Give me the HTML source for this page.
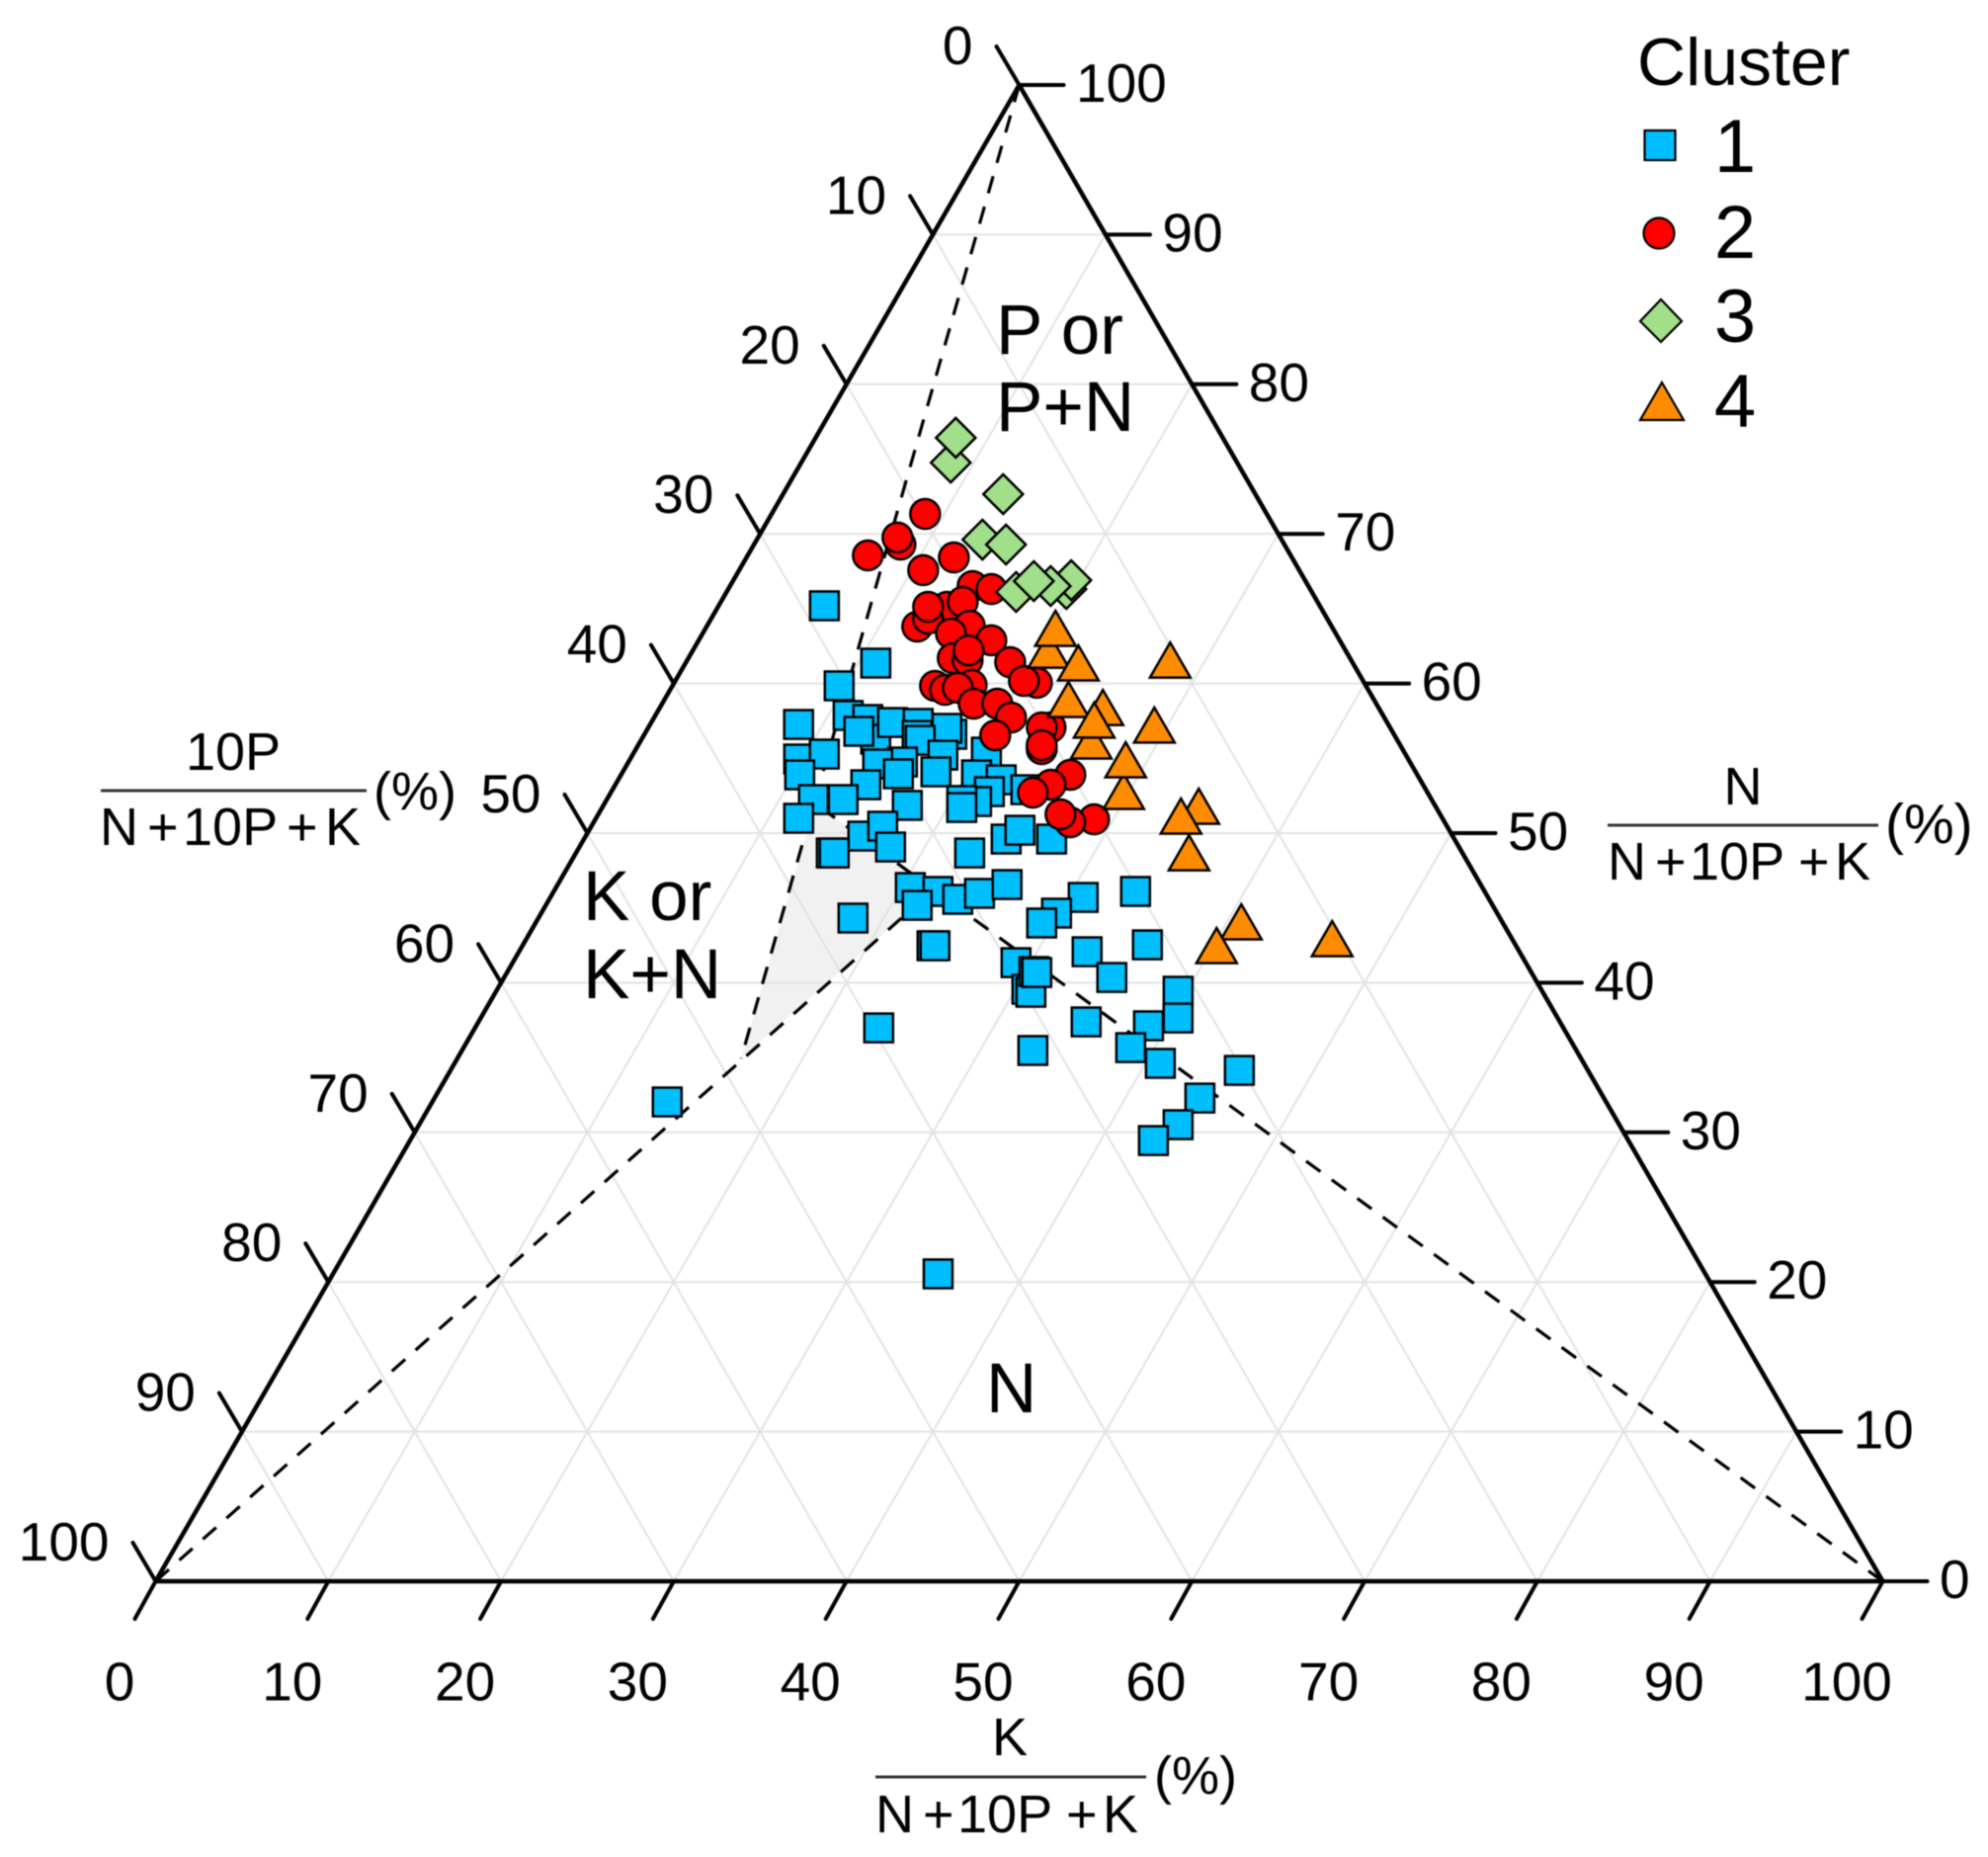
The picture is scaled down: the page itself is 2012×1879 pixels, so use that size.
<!DOCTYPE html>
<html lang="en">
<head>
<meta charset="utf-8">
<title>Ternary plot of N, 10P and K by cluster</title>
<style>
html,body{margin:0;padding:0;background:#fff;}
body{width:2012px;height:1879px;overflow:hidden;}
svg{display:block;font-family:"Liberation Sans",Arial,sans-serif;fill:#000;filter:blur(0.5px);}
</style>
</head>
<body>
<svg id="chart" xmlns="http://www.w3.org/2000/svg" width="2012" height="1879" viewBox="0 0 2012 1879">
  <rect x="0" y="0" width="2012" height="1879" fill="#ffffff"/>
  <g id="region"></g>
  <g id="grid"></g>
  <g id="dashes"></g>
  <g id="axes"></g>
  <g id="marks" transform="translate(-1.2,1)"></g>
  <g id="labels"></g>

  <g font-size="71">
    <text x="1008" y="358">P or</text>
    <text x="1008" y="436">P+N</text>
    <text x="590" y="931">K or</text>
    <text x="590" y="1010">K+N</text>
    <text x="998" y="1429">N</text>
  </g>

  <g font-size="54">
    <text x="236" y="779" text-anchor="middle">10P</text>
    <line x1="102" y1="800" x2="371" y2="800" stroke="#333" stroke-width="3"/>
    <text y="855"><tspan x="101">N</tspan><tspan x="149">+</tspan><tspan x="185">10P</tspan><tspan x="290">+</tspan><tspan x="329">K</tspan></text>
    <text x="378" y="819" font-size="54">(%)</text>
  </g>
  <g font-size="54">
    <text x="1764" y="814" text-anchor="middle">N</text>
    <line x1="1627" y1="835" x2="1901" y2="835" stroke="#333" stroke-width="3"/>
    <text y="890"><tspan x="1627">N</tspan><tspan x="1675">+</tspan><tspan x="1710">10P</tspan><tspan x="1820">+</tspan><tspan x="1857">K</tspan></text>
    <text x="1908" y="853" font-size="57">(%)</text>
  </g>
  <g font-size="54">
    <text x="1022" y="1776" text-anchor="middle">K</text>
    <line x1="886" y1="1798" x2="1160" y2="1798" stroke="#333" stroke-width="3"/>
    <text y="1854"><tspan x="886">N</tspan><tspan x="934">+</tspan><tspan x="969">10P</tspan><tspan x="1079">+</tspan><tspan x="1116">K</tspan></text>
    <text x="1168" y="1815" font-size="54">(%)</text>
  </g>

  <g>
    <text x="1657" y="86" font-size="68">Cluster</text>
    <g>
      <rect x="1664.5" y="132" width="31" height="30" fill="#00BFFF" stroke="#000" stroke-width="2.2"/>
      <text x="1756" y="174" font-size="76" text-anchor="middle">1</text>
    </g>
    <g>
      <circle cx="1679" cy="236" r="15.5" fill="#FF0000" stroke="#000" stroke-width="2.2"/>
      <text x="1756" y="261" font-size="76" text-anchor="middle">2</text>
    </g>
    <g>
      <polygon points="1681,303 1702,325 1681,346 1660,325" fill="#A1DF8B" stroke="#000" stroke-width="2.2"/>
      <text x="1756" y="346" font-size="76" text-anchor="middle">3</text>
    </g>
    <g>
      <polygon points="1682,387 1704,425 1660,425" fill="#FF8C00" stroke="#000" stroke-width="2.2"/>
      <text x="1756" y="432" font-size="76" text-anchor="middle">4</text>
    </g>
  </g>
</svg>

<script>
// Tick values shared by the three axes
const tickValues = [0, 10, 20, 30, 40, 50, 60, 70, 80, 90, 100];
const gridValues = [10, 20, 30, 40, 50, 60, 70, 80, 90];

// Inner junctions of the dashed boundaries, as K and N percentages
const regionK = [16.43, 12.20, 21.93];
const regionN = [34.94, 51.98, 46.24];

// Cluster 1 (squares)
const cluster1K = [11.05,9.69,8.63,11.20,12.47,13.59,12.35,14.00,15.52,15.86,17.83,17.35,16.20,9.79,11.11,10.38,15.90,14.53,16.06,18.01,18.17,20.43,20.62,22.21,12.00,14.54,13.72,11.77,17.63,21.92,21.51,20.62,20.85,23.97,16.08,16.90,18.05,14.82,14.99,22.83,24.48,24.98,27.11,20.55,22.28,21.54,23.69,24.75,26.05,18.25,23.75,23.92,23.41,33.09,30.89,29.87,29.34,33.72,32.93,36.19,35.22,29.18,30.70,31.03,30.51,30.71,39.52,40.41,38.96,35.22,38.66,40.90,45.71,44.35,43.98,43.08,6.16,13.64,35.07];
const cluster1N = [61.43,59.91,57.33,57.93,57.66,56.34,56.87,57.46,57.40,56.60,56.67,57.07,56.27,55.02,55.35,53.96,54.82,54.69,54.03,55.28,54.16,55.48,53.96,53.63,52.31,53.30,52.31,51.06,51.92,52.84,52.18,52.25,51.78,52.97,49.87,50.53,49.14,48.74,48.74,48.74,49.67,50.26,49.67,46.43,46.17,45.24,45.64,46.04,46.63,44.39,42.54,42.54,37.05,35.54,45.77,44.72,44.06,46.17,42.14,42.60,40.42,41.41,39.63,39.43,40.82,40.75,39.50,37.71,37.19,37.45,35.73,34.68,34.21,32.36,30.58,29.52,65.26,32.10,20.61];

// Cluster 2 (circles)
const cluster2K = [8.92,8.52,8.11,6.99,10.69,12.04,14.08,15.27,13.29,12.23,12.59,12.20,14.04,15.23,14.41,16.98,15.34,16.27,16.00,18.80,21.04,20.22,17.33,15.24,15.95,16.62,18.07,19.44,20.70,20.38,23.32,22.81,23.53,23.40,26.05,25.24,24.47,28.91,27.63,26.80];
const cluster2N = [71.40,69.35,69.82,68.63,67.64,68.49,66.58,66.38,65.19,63.87,64.40,65.19,65.52,63.94,63.41,62.95,61.76,61.62,62.28,61.49,60.11,60.24,59.97,59.91,59.64,59.78,58.72,58.72,57.79,56.60,57.13,57.13,55.68,55.94,53.96,53.30,52.77,50.99,50.79,51.32];

// Cluster 3 (diamonds)
const cluster3K = [8.69,8.15,12.78,13.10,14.63,19.61,19.60,18.60,16.80,17.46];
const cluster3N = [74.83,76.49,72.72,69.68,69.35,66.38,66.97,66.58,66.18,66.91];

// Cluster 4 (triangles)
const cluster4K = [20.63,20.30,22.78,28.00,25.69,23.43,26.13,25.61,29.26,29.70,28.76,34.54,33.84,35.53,40.87,40.23,46.69];
const cluster4N = [62.28,63.74,61.43,61.62,58.45,58.98,56.21,57.60,57.27,52.84,54.95,51.85,51.19,48.74,44.12,42.54,43.00];

// Triangle frame and axis functions
const frameLeft = 157.5, frameWidth = 1748, frameBottom = 1600, frameHeight = 1514;
function xAt(k, n) { return frameLeft + (k + n / 2) / 100 * frameWidth; }
function yAt(n) { return frameBottom - n / 100 * frameHeight; }

const NS = 'http://www.w3.org/2000/svg';
function make(tag, attrs, parent) {
  const el = document.createElementNS(NS, tag);
  for (const key in attrs) el.setAttribute(key, attrs[key]);
  parent.appendChild(el);
  return el;
}
function segment(k1, n1, k2, n2, style, parent) {
  return make('line', Object.assign({ x1: xAt(k1, n1), y1: yAt(n1), x2: xAt(k2, n2), y2: yAt(n2) }, style), parent);
}

// Shaded region
const regionG = document.getElementById('region');
const shade = make('polygon', {
  points: regionK.map((k, i) => xAt(k, regionN[i]) + ',' + yAt(regionN[i])).join(' '),
  fill: '#f1f1f1'
}, regionG);



// Grid
const gridG = document.getElementById('grid');
const gridStyle = { stroke: '#e3e3e3', 'stroke-width': 2 };
gridValues.forEach(t => {
  const h = segment(0, t, 100 - t, t, gridStyle, gridG);
  
  
  const u = segment(t, 0, t, 100 - t, gridStyle, gridG);
  
  
  const v = segment(100 - t, 0, 0, 100 - t, gridStyle, gridG);
  
  
});

// Dashed boundaries
const dashG = document.getElementById('dashes');
const dashStyle = { stroke: '#000', 'stroke-width': 3.2, 'stroke-dasharray': '18 14', fill: 'none' };
const d1 = segment(0, 100, regionK[0], regionN[0], dashStyle, dashG);


const d2 = segment(0, 0, regionK[2], regionN[2], dashStyle, dashG);


const d3 = segment(100, 0, regionK[1], regionN[1], dashStyle, dashG);



// Axes and ticks
const axesG = document.getElementById('axes');
const axisStyle = { stroke: '#000', 'stroke-width': 4.5, 'stroke-linecap': 'round' };
const tickStyle = { stroke: '#000', 'stroke-width': 4, 'stroke-linecap': 'round' };
const axBottom = segment(0, 0, 100, 0, axisStyle, axesG);


const axLeft = segment(0, 0, 0, 100, axisStyle, axesG);


const axRight = segment(100, 0, 0, 100, axisStyle, axesG);



const labelG = document.getElementById('labels');
function tickLine(x, y, dx, dy) {
  return make('line', Object.assign({ x1: x, y1: y, x2: x + dx, y2: y + dy }, tickStyle), axesG);
}
function tickText(x, y, anchor, str) {
  const t = make('text', { x: x, y: y, 'text-anchor': anchor, 'font-size': 55 }, labelG);
  t.textContent = str;
  return t;
}
tickValues.forEach(v => {
  // Bottom axis: K, 0 at left corner
  const bx = xAt(v, 0), by = yAt(0);
  const bt = tickLine(bx, by, -21, 38);
  
  
  const bl = tickText(bx - 36.5, 1720.5, 'middle', String(v));
  
  

  // Left axis: 10P, 0 at apex
  const ln = 100 - v;
  const lx = xAt(0, ln), ly = yAt(ln);
  const lt = tickLine(lx, ly, -23, -39);
  
  
  const ll = tickText(lx - 47, ly - 21, 'end', String(v));
  
  

  // Right axis: N, 0 at right corner
  const rx = xAt(100 - v, v), ry = yAt(v);
  const rt = tickLine(rx, ry, 45, 0);
  
  
  const rl = tickText(rx + 57.5, ry + 17, 'start', String(v));
  
  
});

// Data marks
const marksG = document.getElementById('marks');
const markStroke = { stroke: '#000', 'stroke-width': 2.5 };

function drawSquare(k, n, parent) {
  const x = xAt(k, n), y = yAt(n);
  return make('rect', Object.assign({ x: x - 14.5, y: y - 14.5, width: 29, height: 29, fill: '#00BFFF' }, markStroke), parent);
}
function drawCircle(k, n, parent) {
  return make('circle', Object.assign({ cx: xAt(k, n), cy: yAt(n), r: 15, fill: '#FF0000' }, markStroke), parent);
}
function drawDiamond(k, n, parent) {
  const x = xAt(k, n), y = yAt(n), h = 20;
  return make('polygon', Object.assign({
    points: x + ',' + (y - h) + ' ' + (x + h) + ',' + y + ' ' + x + ',' + (y + h) + ' ' + (x - h) + ',' + y,
    fill: '#A1DF8B'
  }, markStroke), parent);
}
function drawTriangle(k, n, parent) {
  const x = xAt(k, n), y = yAt(n);
  return make('polygon', Object.assign({
    points: x + ',' + (y - 18) + ' ' + (x + 20.5) + ',' + (y + 17.5) + ' ' + (x - 20.5) + ',' + (y + 17.5),
    fill: '#FF8C00'
  }, markStroke), parent);
}

cluster1K.forEach((k, i) => {
  const m = drawSquare(k, cluster1N[i], marksG);
  
  
});
cluster2K.forEach((k, i) => {
  const m = drawCircle(k, cluster2N[i], marksG);
  
  
});
cluster3K.forEach((k, i) => {
  const m = drawDiamond(k, cluster3N[i], marksG);
  
  
});
cluster4K.forEach((k, i) => {
  const m = drawTriangle(k, cluster4N[i], marksG);
  
  
});
</script>
</body>
</html>
